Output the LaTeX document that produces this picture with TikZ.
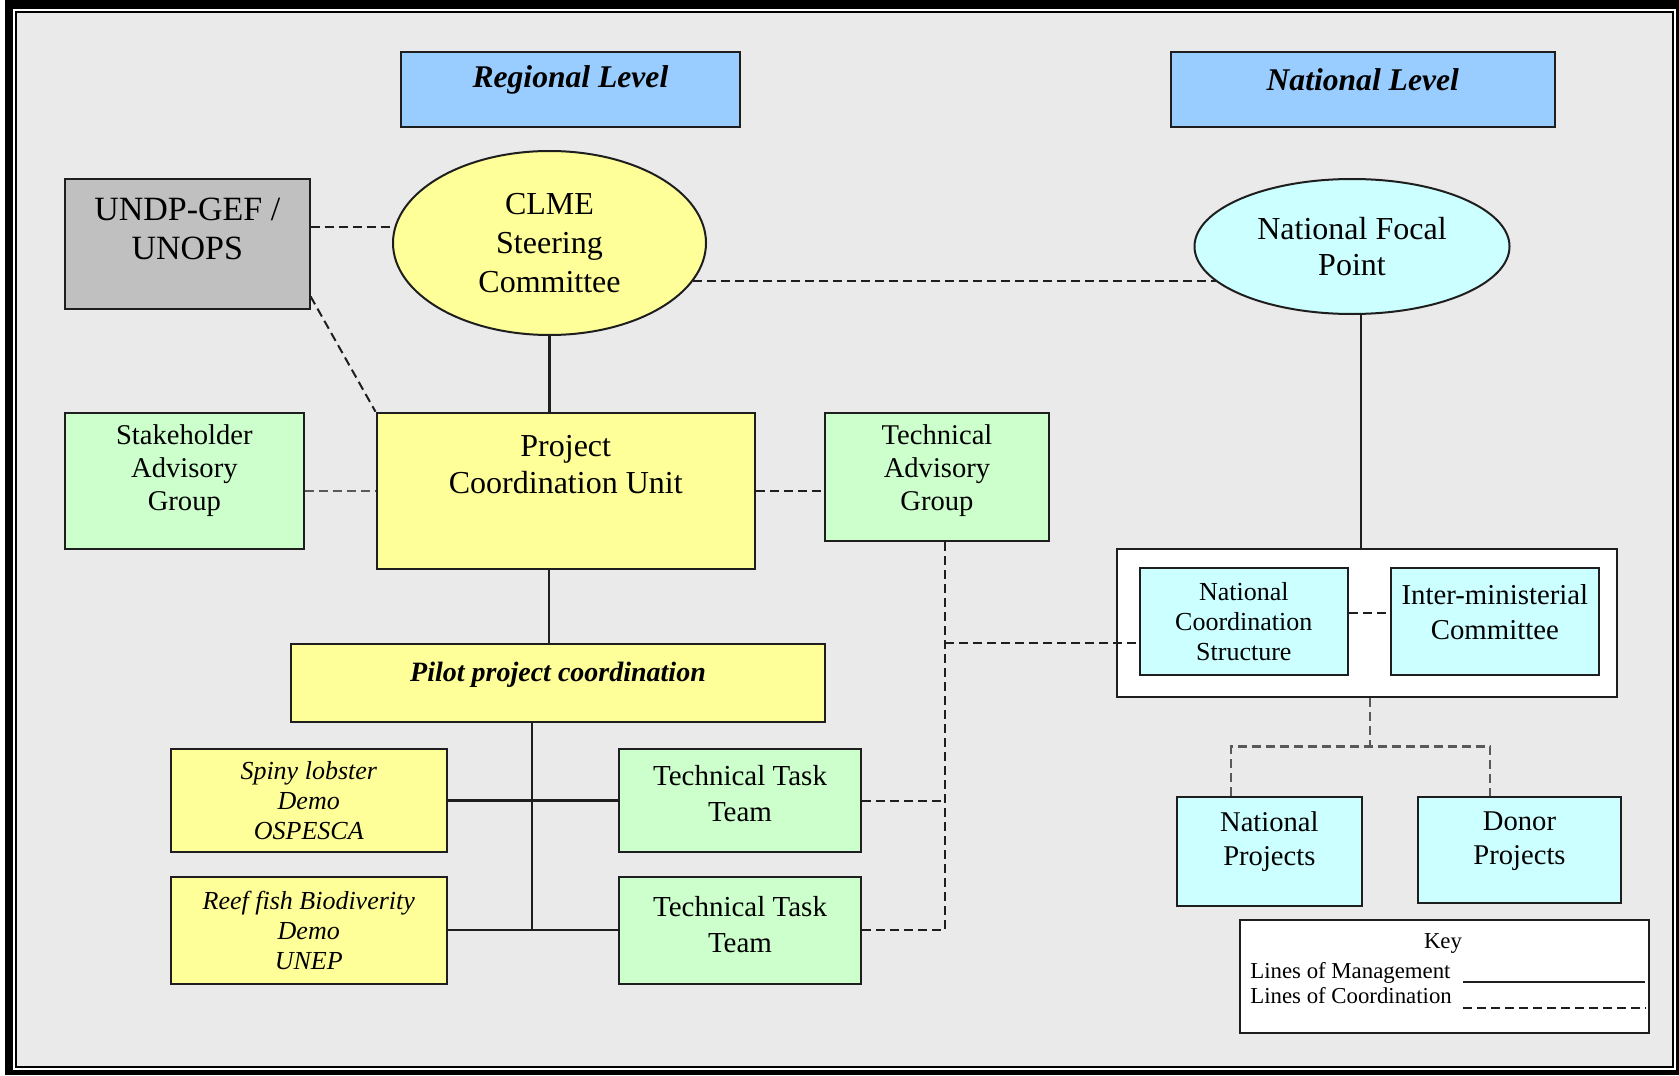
\documentclass[tikz,border=0pt]{standalone}
\usepackage{fontspec}
\setmainfont{Liberation Serif}
\usetikzlibrary{shapes.geometric,calc}
\definecolor{bggray}{HTML}{EAEAEA}
\definecolor{hblue}{HTML}{99CCFF}
\definecolor{pyellow}{HTML}{FFFF99}
\definecolor{pgreen}{HTML}{CCFFCC}
\definecolor{pcyan}{HTML}{CCFFFF}
\definecolor{ugray}{HTML}{C0C0C0}
\definecolor{edge}{HTML}{1E1E1E}
\tikzset{
  box/.style={draw=edge, line width=1pt, rectangle, inner sep=0pt},
  oval/.style={draw=edge, line width=1pt, ellipse, inner sep=0pt, align=center},
  txt/.style={align=center, inner sep=0pt},
  mgmt/.style={draw=edge, line width=1.1pt},
  coord/.style={draw=edge, line width=1pt, dash pattern=on 4.5pt off 2.5pt},
  coordgray/.style={draw=black!65, line width=1.2pt, dash pattern=on 4.5pt off 2.5pt},
  fA/.style={font=\fontsize{16}{19.3}\selectfont},
  fB/.style={font=\fontsize{14.3}{16.5}\selectfont},
  fC/.style={font=\fontsize{14.5}{17.8}\selectfont},
  fD/.style={font=\fontsize{13}{14.8}\selectfont},
  fH/.style={font=\fontsize{15.8}{19}\selectfont\bfseries\itshape},
  fP/.style={font=\fontsize{14}{17}\selectfont\bfseries\itshape},
  fI/.style={font=\fontsize{13}{15}\selectfont\itshape},
  fK/.style={font=\fontsize{11.4}{13}\selectfont},
}
\begin{document}
\begin{tikzpicture}[x=0.5pt,y=-0.5pt]
\useasboundingbox (0,0) rectangle (1679,1075);
% frame
\fill[white] (0,0) rectangle (1679,1075);
\fill[black] (5,0) rectangle (1679,1075);
\fill[white] (13,9) rectangle (1676,1070);
\filldraw[fill=bggray, draw=black, line width=1pt] (16,12) rectangle (1673,1067);

% level headers
\node[box, fill=hblue, minimum width=169.65pt, minimum height=37.65pt] (reg) at (570.4,89.35) {};
\node[txt, fH] (reg-t) at ([yshift=4.7pt]reg.center) {Regional Level};
\node[box, fill=hblue, minimum width=192.25pt, minimum height=37.65pt] (nat) at (1362.75,89.35) {};
\node[txt, fH] (nat-t) at ([yshift=4.7pt]nat.center) {National Level};

% regional
\node[box, fill=ugray, minimum width=122.3pt, minimum height=64.8pt] (undp) at (187.3,243.8) {};
\node[txt, font=\fontsize{17}{19.3}\selectfont] (undp-t) at ([yshift=7.4pt]undp.center) {UNDP-GEF /\\UNOPS};
\node[oval, fill=pyellow, minimum width=156.5pt, minimum height=92pt, fA] (clme) at (549.5,243) {CLME\\Steering\\Committee};
\node[oval, fill=pcyan, minimum width=157.5pt, minimum height=67.5pt, font=\fontsize{16}{18.2}\selectfont] (nfp) at (1352,246.5) {National Focal\\Point};

\node[box, fill=pgreen, minimum width=119.35pt, minimum height=68.15pt] (sag) at (184.35,480.85) {};
\node[txt, fB] (sag-t) at ([yshift=4.9pt]sag.center) {Stakeholder\\Advisory\\Group};
\node[box, fill=pyellow, minimum width=189.25pt, minimum height=78.15pt] (pcu) at (565.75,490.85) {};
\node[txt, font=\fontsize{16}{18.3}\selectfont] (pcu-t) at ([yshift=13pt]pcu.center) {Project\\Coordination Unit};
\node[box, fill=pgreen, minimum width=112pt, minimum height=64.15pt] (tag) at (937,476.85) {};
\node[txt, fB] (tag-t) at ([yshift=2.9pt]tag.center) {Technical\\Advisory\\Group};

\node[box, fill=pyellow, minimum width=267pt, minimum height=39pt] (pilot) at (558,683) {};
\node[txt, fP] (pilot-t) at ([yshift=4pt]pilot.center) {Pilot project coordination};

\node[box, fill=pyellow, minimum width=138.25pt, minimum height=51.5pt, fI, align=center] (spiny) at (308.75,800.5) {Spiny lobster\\Demo\\OSPESCA};
\node[box, fill=pyellow, minimum width=138.25pt, minimum height=53.35pt, fI, align=center] (reef) at (308.75,930.35) {Reef fish Biodiverity\\Demo\\UNEP};
\node[box, fill=pgreen, minimum width=121pt, minimum height=51.5pt] (ttt1) at (740,800.5) {};
\node[txt, fC] (ttt1-t) at ([yshift=3.6pt]ttt1.center) {Technical Task\\Team};
\node[box, fill=pgreen, minimum width=121pt, minimum height=53.35pt] (ttt2) at (740,930.35) {};
\node[txt, fC] (ttt2-t) at ([yshift=3pt]ttt2.center) {Technical Task\\Team};

% national
\node[box, fill=white, minimum width=250pt, minimum height=74.25pt] (cont) at (1367,622.75) {};
\node[box, fill=pcyan, minimum width=104.2pt, minimum height=53.5pt, fD, align=center] (ncs) at (1243.8,621.5) {National\\Coordination\\Structure};
\node[box, fill=pcyan, minimum width=103.85pt, minimum height=53.5pt] (imc) at (1494.85,621.5) {};
\node[txt, font=\fontsize{14.4}{17.2}\selectfont] (imc-t) at ([yshift=4.75pt]imc.center) {Inter-ministerial\\Committee};
\node[box, fill=pcyan, minimum width=92.35pt, minimum height=54.65pt] (np) at (1269.35,851.35) {};
\node[txt, font=\fontsize{14.3}{17}\selectfont] (np-t) at ([yshift=4.7pt]np.center) {National\\Projects};
\node[box, fill=pcyan, minimum width=101.5pt, minimum height=53.15pt] (dp) at (1519.5,849.85) {};
\node[txt, font=\fontsize{14.3}{17}\selectfont] (dp-t) at ([yshift=4.4pt]dp.center) {Donor\\Projects};

% key
\node[box, fill=white, minimum width=204.5pt, minimum height=56.5pt] (key) at (1444.5,976.5) {};
\node[txt, fK] (key-t) at (1443,943) {Key};
\node[txt, fK, anchor=west] (key-m) at (1250,973) {Lines of Management};
\node[txt, fK, anchor=west] (key-c) at (1250,996) {Lines of Coordination};
\coordinate (km1) at (1463,982);
\coordinate (km2) at (1645,982);
\coordinate (kc1) at (1463,1008);
\coordinate (kc2) at (1646,1008);
\draw[mgmt] (km1) -- (km2);
\draw[coord] (kc1) -- (kc2);

% connectors: management
\draw[mgmt] (clme.south) -- (clme.south |- pcu.north);
\coordinate (pcudrop) at (549,569);
\draw[mgmt] (pcudrop) -- (pcudrop |- pilot.north);
\coordinate (trunk) at (532,930.35);
\draw[mgmt] (pilot.south -| trunk) -- (trunk);
\draw[mgmt] (spiny.east) -- (ttt1.west);
\draw[mgmt] (reef.east) -- (ttt2.west);
\coordinate (nfpdrop) at (1361,548.5);
\draw[mgmt] (nfp.south -| nfpdrop) -- (nfpdrop);

% connectors: coordination
\draw[coord] (clme.174.8 -| undp.east) -- (clme.174.8);
\draw[coord] ($(undp.east)!0.8!(undp.south east)$) -- (pcu.north west);
\draw[coord] (clme.-15.8) -- (clme.-15.8 -| nfp.195.4);
\draw[coordgray] (pcu.west -| sag.east) -- (pcu.west);
\draw[coord] (pcu.east) -- (pcu.east -| tag.west);
\coordinate (tagbus) at (945,930.35);
\coordinate (ncsjoin) at (945,643.4);
\draw[coord] (tag.south -| tagbus) -- (tagbus);
\draw[coord] (ttt1.east) -- (ttt1.east -| tagbus);
\draw[coord] (ttt2.east) -- (ttt2.east -| tagbus);
\draw[coord] (ncsjoin) -- (ncsjoin -| ncs.west);
\draw[coord] ([yshift=4.25pt]ncs.east) -- ([yshift=4.25pt]ncs.east -| imc.west);
\coordinate (contdrop) at (1370,746.5);
\coordinate (npdrop) at (1231,746.5);
\coordinate (dpdrop) at (1490,746.5);
\draw[coordgray] (cont.south -| contdrop) -- (contdrop);
\draw[coordgray] (np.north -| npdrop) -- (npdrop) -- (dpdrop) -- (dp.north -| dpdrop);
\end{tikzpicture}
\end{document}
